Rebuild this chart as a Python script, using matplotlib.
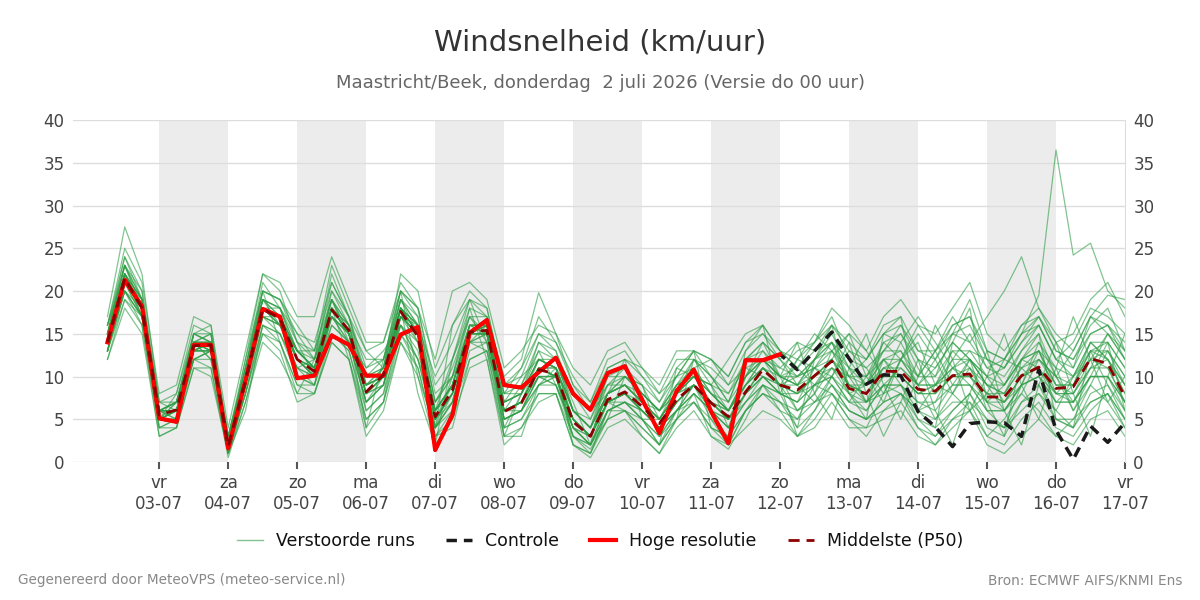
import matplotlib
matplotlib.use("Agg")
import matplotlib.pyplot as plt
import pandas as pd
from matplotlib.lines import Line2D

# 6-hourly steps from Thu 2 July 2026 06 UTC up to Fri 17 July 00 UTC
times = pd.date_range("2026-07-02 06:00", periods=60, freq="6h")

day_ticks = pd.date_range("2026-07-03", "2026-07-17", freq="D")
day_names = ["vr", "za", "zo", "ma", "di", "wo", "do", "vr",
             "za", "zo", "ma", "di", "wo", "do", "vr"]
shaded_days = pd.date_range("2026-07-03", "2026-07-15", freq="2D")

# hoge resolutie (stops at 12-07)
hires = [14.0, 21.3, 18.2, 5.1, 4.7, 13.7, 13.7, 1.6, 9.5, 17.9,
         17.0, 9.8, 10.1, 14.8, 13.7, 10.1, 10.1, 14.9, 15.8, 1.4,
         5.5, 15.1, 16.6, 9.0, 8.7, 10.5, 12.2, 8.0, 6.1, 10.4,
         11.2, 7.3, 3.4, 8.3, 10.8, 5.9, 2.2, 11.9, 11.9, 12.6]

control = [14.0, 21.3, 18.2, 5.1, 4.7, 13.7, 13.7, 1.6, 9.5, 17.9,
           17.0, 9.8, 10.1, 14.8, 13.7, 10.1, 10.1, 14.9, 15.8, 1.4,
           5.5, 15.1, 16.6, 9.0, 8.7, 10.5, 12.2, 8.0, 6.1, 10.4,
           11.2, 7.3, 3.4, 8.3, 10.8, 5.9, 2.2, 11.9, 11.9, 12.6,
           10.8, 13.0, 15.2, 12.1, 9.1, 10.2, 10.1, 5.9, 4.1, 1.8,
           4.5, 4.7, 4.6, 3.0, 10.8, 3.7, 0.3, 4.2, 2.3, 4.6]

p50 = [14.0, 21.5, 18.0, 5.5, 6.1, 13.6, 13.7, 1.8, 9.5, 17.9,
       16.8, 12.0, 10.6, 17.8, 15.4, 8.2, 10.2, 17.6, 14.7, 5.3,
       8.4, 15.2, 15.4, 5.9, 6.9, 10.8, 10.3, 4.7, 3.0, 7.3,
       8.2, 6.5, 4.5, 7.3, 9.0, 6.9, 5.3, 8.2, 10.8, 9.0,
       8.4, 10.1, 11.8, 8.6, 8.0, 10.6, 10.6, 8.5, 8.3, 10.1,
       10.3, 7.6, 7.6, 10.1, 11.1, 8.6, 8.8, 12.1, 11.5, 7.6]

# perturbed runs
run01 = [17, 27.5, 22, 7, 8, 16, 15, 3, 12, 22, 20, 14, 12, 21, 17, 11, 12, 20, 17, 7,
         10, 18, 17, 8, 9, 13, 12, 6, 4, 9, 11, 9, 5, 8, 12, 10, 7, 12, 14, 10,
         6, 8, 13, 15, 10, 7, 12, 16, 13, 9, 12, 6, 4, 9, 14, 10, 7, 11, 15, 12]
run02 = [12, 18, 15, 3, 4, 11, 10, 1, 7, 14, 12, 8, 8, 14, 12, 5, 7, 14, 11, 3,
         6, 12, 13, 4, 5, 8, 8, 3, 1.5, 5, 6, 4, 2, 5, 7, 4, 3, 6, 8, 7,
         5, 9, 8, 5, 4, 8, 9, 5, 3, 6, 8, 4, 3, 7, 9, 5, 4, 8, 9, 5]
run03 = [15, 23, 19, 6, 7, 14, 15, 2, 10, 19, 18, 13, 11, 19, 16, 9, 10, 19, 15, 6,
         9, 16, 16, 6, 7, 12, 11, 5, 3, 8, 9, 7, 5, 9, 11, 8, 6, 10, 12, 9,
         10, 12, 14, 9, 7, 12, 13, 9, 11, 14, 12, 9, 8, 12, 13, 8, 10, 14, 12, 9]
run04 = [13, 20, 17, 4, 5, 12, 13, 1.5, 8, 16, 15, 10, 9, 16, 14, 7, 9, 16, 13, 4,
         7, 14, 14, 5, 6, 10, 9, 4, 2, 6, 7, 5, 3, 6, 8, 6, 4, 7, 9, 8,
         7, 11, 10, 7, 6, 9, 8, 6, 7, 11, 9, 6, 6, 9, 10, 7, 7, 10, 10, 6]
run05 = [16, 24, 20, 6, 6, 15, 14, 2, 11, 20, 19, 16, 13, 23, 18, 13, 11, 22, 20, 11,
         16, 20, 18, 9, 11, 17, 14, 10, 7, 12, 13, 10, 7, 11, 10, 9, 12, 15, 16, 13,
         11, 14, 17, 12, 9, 13, 16, 12, 10, 15, 19, 13, 12, 16, 18, 14, 11, 17, 15, 12]
run06 = [14, 22, 18, 5, 6, 13, 14, 2, 9, 18, 17, 12, 10, 18, 15, 8, 10, 18, 15, 5,
         8, 15, 15, 6, 7, 11, 10, 5, 3, 7, 8, 6, 4, 7, 9, 7, 5, 8, 11, 9,
         8, 10, 12, 9, 8, 11, 11, 9, 12, 15, 14, 11, 12, 15, 19.5, 36.5, 24.2, 25.6, 20, 18]
run07 = [13, 21, 17, 5, 7, 14, 12, 3, 10, 17, 15, 11, 12, 17, 14, 10, 11, 16, 12, 4,
         10, 14, 13, 7, 10, 12, 11, 8, 6, 9, 10, 8, 6, 10, 11, 12, 9, 11, 10, 8,
         12, 15, 13, 10, 12, 15, 14, 10, 13, 17, 14, 17, 20, 24, 18, 15, 13, 17, 16, 14]
run08 = [15, 22, 19, 6, 5, 13, 13, 1, 9, 18, 16, 11, 9, 18, 16, 6, 8, 18, 16, 4,
         7, 15, 16, 4, 5, 9, 10, 3, 1, 6, 7, 5, 2, 6, 9, 5, 2, 6, 9, 7,
         4, 6, 9, 6, 5, 7, 8, 4, 3, 5, 7, 3, 2, 5, 7, 4, 3, 6, 8, 4]
run09 = [14, 20, 17, 6, 6, 14, 14, 2, 10, 19, 17, 13, 11, 19, 15, 8, 11, 19, 16, 6,
         9, 16, 16, 7, 8, 11, 10, 4, 3, 8, 9, 7, 5, 8, 10, 7, 6, 9, 12, 10,
         9, 11, 12, 8, 9, 12, 10, 8, 9, 11, 10, 8, 7, 10, 12, 9, 8, 12, 11, 7]
run10 = [14, 22, 18, 5, 6, 14, 13, 2, 9, 18, 17, 12, 11, 18, 15, 9, 10, 18, 8, 2,
         12, 18, 12, 3, 8, 14, 12, 7, 2, 5, 10, 9, 3, 5, 12, 9, 4, 10, 14, 12,
         9, 7, 10, 13, 11, 8, 12, 14, 9, 8, 12, 10, 7, 9, 13, 11, 6, 10, 14, 11]
run11 = [16, 23, 20, 7, 6, 15, 16, 2, 10, 20, 19, 14, 10, 20, 17, 10, 12, 19, 17, 7,
         11, 17, 15, 6, 9, 14, 13, 6, 4, 10, 11, 8, 6, 9, 12, 10, 7, 12, 13, 11,
         10, 12, 15, 11, 9, 14, 15, 11, 8, 12, 15, 11, 10, 13, 15, 10, 9, 13, 13, 10]
run12 = [12, 19, 16, 4, 5, 12, 12, 1, 8, 15, 14, 9, 9, 15, 13, 6, 8, 15, 12, 4,
         6, 13, 14, 5, 6, 9, 9, 3, 2, 6, 7, 6, 4, 6, 8, 6, 4, 7, 9, 8,
         7, 9, 10, 7, 7, 9, 9, 7, 6, 9, 9, 7, 6, 9, 10, 8, 7, 10, 10, 7]
run13 = [15, 21, 18, 6, 7, 14, 13, 3, 11, 19, 18, 14, 13, 20, 16, 12, 12, 18, 16, 10,
         14, 19, 17, 10, 12, 19.8, 15, 9, 7, 11, 12, 10, 8, 12, 12, 11, 9, 13, 15, 12,
         14, 13, 16, 14, 12, 16, 17, 13, 12, 16, 17, 12, 11, 14, 17, 13, 12, 16, 18, 13]
run14 = [13, 20, 16, 3, 4, 11, 11, 0.5, 7, 15, 13, 7, 8, 14, 12, 3, 6, 14, 10, 2,
         5, 11, 12, 2, 4, 7, 8, 2, 0.5, 4, 5, 3, 1, 4, 6, 3, 2, 4, 6, 5,
         3, 4, 7, 4, 4, 5, 6, 3, 2, 4, 6, 2, 1, 3, 5, 3, 2, 5, 6, 3]
run15 = [14, 21, 18, 6, 6, 13, 14, 2, 10, 17, 16, 13, 11, 17, 15, 7, 10, 17, 15, 6,
         8, 15, 16, 6, 6, 11, 11, 5, 3, 7, 6, 5, 5, 8, 9, 6, 5, 9, 11, 9,
         12, 11, 9, 7, 10, 12, 9, 6, 9, 13, 11, 7, 9, 12, 11, 7, 9, 14, 12, 8]
run16 = [15, 24, 19, 5, 7, 15, 15, 2, 11, 21, 18, 15, 12, 22, 17, 9, 11, 20, 18, 8,
         10, 17, 17, 8, 8, 12, 12, 6, 5, 9, 9, 7, 6, 8, 10, 8, 6, 9, 12, 10,
         11, 13, 14, 10, 10, 13, 13, 10, 10, 13, 13, 10, 9, 12, 14, 11, 10, 14, 14, 11]
run17 = [14, 21, 17, 5, 6, 13, 13, 2, 9, 17, 16, 12, 10, 17, 15, 8, 9, 17, 15, 5,
         8, 15, 15, 6, 7, 10, 10, 4, 3, 7, 8, 6, 4, 7, 9, 7, 5, 8, 10, 9,
         6, 8, 11, 10, 7, 9, 11, 9, 5, 8, 11, 9, 6, 8, 12, 10, 6, 9, 13, 9]
run18 = [14, 22, 19, 6, 6, 14, 14, 2, 10, 18, 17, 13, 11, 18, 15, 9, 11, 18, 15, 6,
         9, 16, 16, 7, 8, 12, 11, 6, 4, 8, 9, 8, 6, 9, 10, 9, 8, 11, 12, 11,
         13, 14, 18, 16, 13, 17, 19, 16, 15, 18, 21, 15, 13, 16, 17, 14, 15, 19, 21, 17]
run19 = [13, 19, 17, 5, 5, 12, 13, 1.5, 8, 16, 15, 11, 10, 16, 14, 7, 9, 16, 14, 4,
         7, 14, 15, 5, 6, 10, 9, 4, 2, 7, 8, 6, 4, 6, 9, 6, 4, 8, 10, 8,
         8, 10, 11, 8, 7, 10, 10, 8, 8, 10, 10, 7, 7, 10, 11, 8, 8, 11, 11, 7]
run20 = [16, 25, 21, 8, 9, 17, 16, 4, 13, 22, 21, 17, 17, 24, 19, 14, 14, 21, 18, 9,
         12, 19, 18, 9, 10, 15, 13, 8, 5, 10, 10, 9, 7, 10, 13, 10, 8, 12, 14, 12,
         10, 11, 14, 12, 11, 13, 15, 12, 11, 14, 12, 10, 11, 14, 16, 12, 11, 15, 16, 12]
run21 = [13, 20, 17, 4, 4, 12, 11, 1, 6, 16, 14, 9, 8, 15, 13, 5, 7, 15, 11, 3,
         4, 12, 13, 3, 4, 8, 8, 2, 1, 5, 6, 4, 2, 5, 7, 4, 2, 6, 8, 6,
         5, 7, 9, 6, 5, 7, 8, 5, 4, 6, 8, 5, 4, 6, 8, 6, 4, 7, 8, 5]
run22 = [15, 23, 18, 6, 7, 14, 15, 3, 10, 19, 18, 13, 12, 19, 16, 10, 11, 19, 16, 7,
         10, 16, 16, 7, 8, 12, 11, 6, 4, 8, 10, 8, 6, 8, 11, 8, 7, 10, 12, 10,
         9, 12, 13, 9, 9, 12, 12, 9, 9, 12, 12, 9, 8, 11, 13, 9, 9, 13, 12, 9]
run23 = [14, 21, 18, 5, 6, 13, 14, 2, 9, 18, 17, 12, 11, 18, 15, 8, 10, 18, 14, 5,
         8, 15, 15, 6, 7, 11, 10, 5, 3, 7, 8, 6, 4, 7, 9, 7, 5, 8, 10, 9,
         3, 6, 10, 14, 8, 3, 7, 12, 6, 2, 8, 13, 6, 2, 9, 14, 8, 3, 10, 15]
run24 = [14, 22, 18, 6, 5, 13, 13, 2, 9, 18, 16, 12, 10, 18, 15, 8, 10, 17, 15, 5,
         9, 15, 15, 6, 7, 11, 10, 5, 3, 7, 8, 6, 4, 7, 9, 7, 5, 8, 11, 9,
         9, 12, 14, 11, 7, 8, 12, 15, 12, 8, 6, 8, 12, 11, 9, 6, 10, 13, 9, 6]
run25 = [14, 21, 18, 5, 6, 14, 13, 2, 10, 18, 17, 12, 11, 17, 15, 8, 10, 18, 15, 5,
         8, 15, 15, 6, 7, 11, 10, 5, 3, 7, 8, 7, 5, 8, 9, 7, 6, 9, 11, 9,
         8, 10, 12, 9, 8, 11, 10, 8, 9, 10, 10, 8, 8, 11, 12, 10, 13, 17, 19.5, 19]
run26 = [15, 22, 17, 6, 7, 14, 12, 3, 11, 19, 16, 13, 13, 19, 14, 11, 13, 16, 12, 6,
         12, 17, 14, 8, 11, 15, 14, 9, 6, 8, 12, 11, 8, 10, 13, 12, 10, 14, 16, 13,
         11, 9, 12, 15, 13, 10, 14, 17, 14, 11, 13, 12, 9, 13, 16, 12, 10, 12, 15, 13]
run27 = [13, 21, 19, 5, 5, 13, 14, 1, 8, 17, 17, 10, 9, 17, 15, 4, 7, 17, 16, 3,
         5, 14, 16, 3, 3, 9, 11, 2, 1, 6, 6, 3, 1, 5, 8, 3, 1.5, 5, 9, 6,
         3, 5, 8, 5, 3, 6, 7, 4, 2, 5, 6, 3, 5, 8, 6, 3, 5, 9, 7, 4]
run28 = [14, 23, 18, 6, 6, 14, 14, 2, 10, 18, 18, 12, 11, 19, 15, 9, 10, 18, 15, 6,
         9, 16, 15, 6, 7, 11, 10, 5, 3, 8, 9, 7, 5, 8, 10, 8, 6, 10, 13, 10,
         10, 11, 13, 11, 10, 14, 12, 10, 13, 16, 17, 13, 12, 15, 16, 12, 14, 18, 17, 15]
run29 = [16, 22, 19, 5, 8, 15, 14, 2, 12, 20, 14, 8, 12, 18, 12, 4, 12, 20, 10, 4,
         16, 19, 14, 4, 8, 13, 9, 4, 2, 11, 12, 5, 2, 11, 13, 4, 3, 13, 16, 8,
         4, 12, 16, 8, 5, 15, 17, 6, 4, 14, 18, 7, 3, 12, 15, 5, 4, 13, 14, 6]
run30 = [14, 21, 18, 6, 6, 13, 13, 2, 9, 18, 17, 12, 10, 18, 15, 8, 10, 18, 15, 5,
         8, 15, 15, 6, 7, 10, 10, 5, 3, 7, 8, 6, 4, 7, 9, 7, 5, 8, 11, 9,
         8, 9, 11, 9, 8, 10, 10, 8, 8, 10, 11, 8, 7, 10, 11, 8, 8, 11, 12, 8]
run31 = [13, 22, 17, 5, 6, 12, 13, 2, 9, 17, 16, 11, 10, 17, 14, 7, 9, 17, 14, 4,
         8, 14, 15, 5, 6, 9, 10, 4, 2, 7, 7, 6, 4, 6, 8, 6, 5, 7, 10, 8,
         7, 9, 10, 8, 6, 9, 9, 7, 7, 9, 9, 6, 6, 9, 10, 7, 7, 10, 10, 7]
run32 = [15, 23, 19, 7, 7, 15, 14, 3, 11, 20, 19, 15, 14, 21, 17, 13, 14, 20, 18, 12,
         20, 21, 19, 11, 13, 16, 15, 11, 9, 13, 14, 11, 9, 13, 13, 12, 10, 14, 15, 13,
         12, 14, 16, 13, 12, 15, 16, 13, 13, 15, 16, 12, 11, 15, 17, 13, 12, 15, 16, 13]
run33 = [14, 20, 18, 5, 5, 13, 14, 2, 9, 18, 16, 12, 10, 18, 16, 8, 9, 17, 15, 5,
         7, 15, 16, 5, 6, 10, 10, 3, 2, 6, 7, 5, 3, 6, 7, 5, 3, 6, 8, 7,
         6, 7, 8, 6, 5, 6, 8, 6, 5, 7, 7, 5, 4, 7, 8, 5, 5, 7, 8, 5]
run34 = [14, 22, 18, 6, 6, 14, 14, 2, 10, 18, 17, 13, 11, 18, 15, 9, 10, 18, 15, 6,
         9, 16, 15, 6, 7, 11, 11, 6, 4, 8, 9, 7, 5, 8, 10, 8, 6, 9, 11, 10,
         14, 8, 5, 11, 15, 9, 5, 10, 16, 12, 6, 10, 15, 9, 5, 11, 17, 12, 7, 10]
run35 = [15, 21, 18, 6, 7, 14, 13, 2, 10, 19, 17, 13, 11, 18, 15, 9, 10, 18, 16, 6,
         9, 15, 16, 7, 8, 12, 11, 6, 4, 8, 10, 8, 6, 9, 10, 9, 6, 10, 12, 10,
         9, 10, 12, 10, 9, 11, 12, 9, 9, 11, 12, 9, 9, 12, 13, 9, 9, 12, 13, 10]

runs = [run01, run02, run03, run04, run05, run06, run07, run08, run09, run10,
        run11, run12, run13, run14, run15, run16, run17, run18, run19, run20,
        run21, run22, run23, run24, run25, run26, run27, run28, run29, run30,
        run31, run32, run33, run34, run35]

run_color = "#2e9e46"

fig = plt.figure(figsize=(12, 6), dpi=100)
ax = fig.add_axes([73 / 1200, 138 / 600, 1052 / 1200, 342 / 600])

for d in shaded_days:
    ax.axvspan(d, d + pd.Timedelta(days=1), color="#ececec", lw=0, zorder=0)

for run in runs:
    ax.plot(times, run, color=run_color, lw=0.9, alpha=0.6, zorder=2)

ax.plot(times, control, color="#1a1a1a", lw=2.5, ls=(0, (3, 2)), zorder=3)
ax.plot(times[:len(hires)], hires, color="#ff0000", lw=3, zorder=4)
ax.plot(times, p50, color="#8b0000", lw=2, ls=(0, (4, 2.5)), zorder=5)

ax.set_xlim(pd.Timestamp("2026-07-01 18:00"), pd.Timestamp("2026-07-17 00:00"))
ax.set_ylim(0, 40)
ax.set_yticks(range(0, 41, 5))
ax.set_xticks(day_ticks)
ax.set_xticklabels([f"{n}\n{d:%d-%m}" for n, d in zip(day_names, day_ticks)])

ax.yaxis.grid(True, color="#dddddd", lw=1)
ax.set_axisbelow(True)
ax.tick_params(axis="x", length=5, width=1.5, color="#555555",
               labelsize=12, labelcolor="#444444", pad=4)
ax.tick_params(axis="y", length=0, labelleft=True, labelright=True,
               labelsize=12, labelcolor="#444444", pad=6)
for side in ["top", "left", "bottom"]:
    ax.spines[side].set_visible(False)
ax.spines["right"].set_color("#dddddd")

fig.text(0.5, 1 - 42 / 600, "Windsnelheid (km/uur)", ha="center", va="center",
         fontsize=21, color="#333333")
fig.text(0.5, 1 - 83 / 600, "Maastricht/Beek, donderdag  2 juli 2026 (Versie do 00 uur)",
         ha="center", va="center", fontsize=13, color="#666666")

handles = [
    Line2D([], [], color=run_color, lw=1, alpha=0.6),
    Line2D([], [], color="#1a1a1a", lw=2.5, ls=(0, (3, 2))),
    Line2D([], [], color="#ff0000", lw=3),
    Line2D([], [], color="#8b0000", lw=2, ls=(0, (4, 2.5))),
]
labels = ["Verstoorde runs", "Controle", "Hoge resolutie", "Middelste (P50)"]
fig.legend(handles, labels, loc="center", bbox_to_anchor=(0.5, 1 - 541 / 600),
           ncol=4, frameon=False, fontsize=12.5, handlelength=1.5,
           handletextpad=0.75, columnspacing=1.8, labelcolor="#111111")

fig.text(18 / 1200, 1 - 580 / 600, "Gegenereerd door MeteoVPS (meteo-service.nl)",
         ha="left", va="center", fontsize=9.8, color="#888888")
fig.text(1182 / 1200, 1 - 580 / 600, "Bron: ECMWF AIFS/KNMI Ens",
         ha="right", va="center", fontsize=9.8, color="#888888")

fig.savefig("out.png", dpi=100)
